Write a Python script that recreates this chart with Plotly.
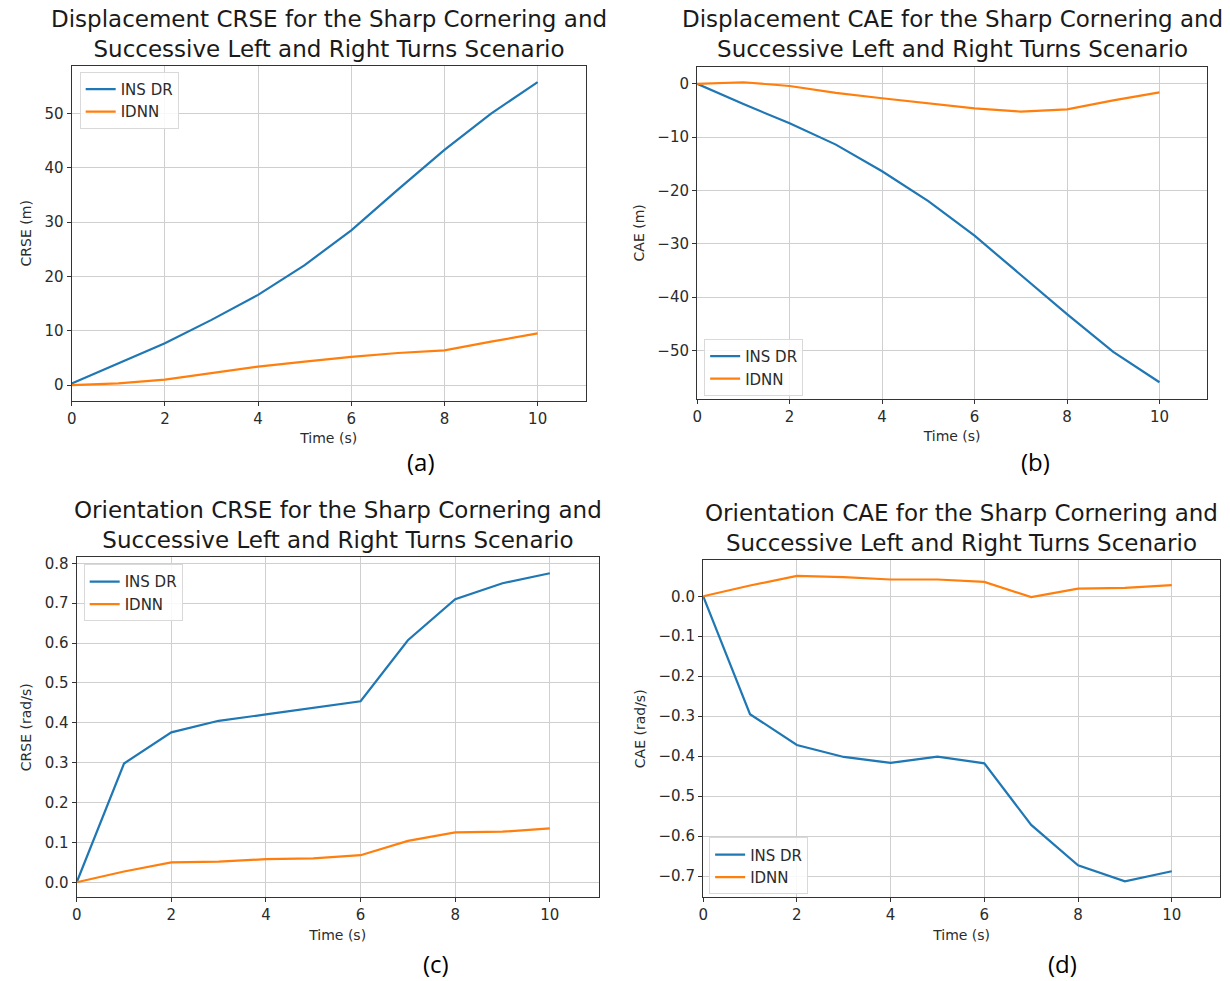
import plotly.graph_objects as go

W, H = 1230, 981

time_s = [0, 1, 2, 3, 4, 5, 6, 7, 8, 9, 10]

# (a) Displacement CRSE
a_ins = [0.3, 4.0, 7.7, 12.0, 16.6, 22.1, 28.5, 36.0, 43.3, 50.0, 55.8]
a_idnn = [0.0, 0.3, 1.0, 2.2, 3.4, 4.3, 5.2, 5.9, 6.4, 8.0, 9.5]
# (b) Displacement CAE
b_ins = [0.0, -3.8, -7.4, -11.4, -16.4, -22.0, -28.5, -35.8, -43.2, -50.3, -56.0]
b_idnn = [0.0, 0.3, -0.4, -1.7, -2.7, -3.7, -4.6, -5.2, -4.8, -3.1, -1.6]
# (c) Orientation CRSE
c_ins = [0.0, 0.298, 0.376, 0.405, 0.421, 0.437, 0.454, 0.607, 0.710, 0.750, 0.775]
c_idnn = [0.0, 0.027, 0.050, 0.052, 0.058, 0.060, 0.068, 0.104, 0.125, 0.127, 0.135]
# (d) Orientation CAE
d_ins = [0.0, -0.295, -0.372, -0.402, -0.417, -0.401, -0.418, -0.572, -0.673, -0.713, -0.688]
d_idnn = [0.0, 0.027, 0.051, 0.048, 0.042, 0.042, 0.036, -0.002, 0.019, 0.021, 0.028]

titles = [
    "Displacement CRSE for the Sharp Cornering and<br>Successive Left and Right Turns Scenario",
    "Displacement CAE for the Sharp Cornering and<br>Successive Left and Right Turns Scenario",
    "Orientation CRSE for the Sharp Cornering and<br>Successive Left and Right Turns Scenario",
    "Orientation CAE for the Sharp Cornering and<br>Successive Left and Right Turns Scenario",
]
ylabels = ["CRSE (m)", "CAE (m)", "CRSE (rad/s)", "CAE (rad/s)"]
xlabel = "Time (s)"
panel_tags = ["(a)", "(b)", "(c)", "(d)"]
series_names = ["INS DR", "IDNN"]

BLUE = "#1f77b4"
ORANGE = "#ff7f0e"

# axes boxes in pixels: left, right, top, bottom
boxes = [
    (67, 583, 63, 399),
    (695, 1207, 64, 397),
    (72, 596, 556, 897),
    (701, 1220, 559, 897),
]
yranges = [[-2.9, 58.8], [-59.1, 3.2], [-0.0375, 0.815], [-0.753, 0.09]]
ytickvals = [
    [0, 10, 20, 30, 40, 50],
    [-50, -40, -30, -20, -10, 0],
    [0.0, 0.1, 0.2, 0.3, 0.4, 0.5, 0.6, 0.7, 0.8],
    [-0.7, -0.6, -0.5, -0.4, -0.3, -0.2, -0.1, 0.0],
]
yfmt = ["d", "d", ".1f", ".1f"]
legend_pos = [  # pixel left, top
    (75, 69),
    (702, 337),
    (79, 563),
    (707, 837),
]
title_y = [61, 61, 554, 557]
tag_pos = [(418, 460), (1035, 460), (433, 963), (1062, 963)]

data = [(a_ins, a_idnn), (b_ins, b_idnn), (c_ins, c_idnn), (d_ins, d_idnn)]

fig = go.Figure()
annotations = []
layout = dict(
    width=W, height=H,
    margin=dict(l=0, r=0, t=0, b=0),
    paper_bgcolor="white", plot_bgcolor="white",
    font=dict(family="DejaVu Sans", color="#262626"),
)

for i in range(4):
    n = "" if i == 0 else str(i + 1)
    l, r, t, b = boxes[i]
    xa = "x" + n
    ya = "y" + n
    leg = "legend" + n
    ins, idnn = data[i]
    fig.add_trace(go.Scatter(x=time_s, y=ins, mode="lines", name=series_names[0],
                             line=dict(color=BLUE, width=2.2), xaxis=xa, yaxis=ya, legend=leg))
    fig.add_trace(go.Scatter(x=time_s, y=idnn, mode="lines", name=series_names[1],
                             line=dict(color=ORANGE, width=2.2), xaxis=xa, yaxis=ya, legend=leg))
    common = dict(
        showline=True, mirror=True, linecolor="#333333", linewidth=1.4,
        ticks="outside", ticklen=4, tickwidth=1.2, tickcolor="#333333",
        showgrid=True, gridcolor="#cfcfcf", gridwidth=1.3, zeroline=False,
        tickfont=dict(size=15, color="#2b2b2b", family="DejaVu Sans"),
    )
    layout["xaxis" + n] = dict(
        common, domain=[l / W, r / W], anchor=ya, range=[0, 11.03],
        tickvals=[0, 2, 4, 6, 8, 10],
        title=dict(text=xlabel, standoff=6, font=dict(size=14, color="#2b2b2b")),
    )
    layout["yaxis" + n] = dict(
        common, domain=[1 - b / H, 1 - t / H], anchor=xa, range=yranges[i],
        tickvals=ytickvals[i], tickformat=yfmt[i],
        title=dict(text=ylabels[i], standoff=9, font=dict(size=14, color="#2b2b2b")),
    )
    lx, ly = legend_pos[i]
    layout[leg] = dict(
        x=lx / W, y=1 - ly / H, xanchor="left", yanchor="top",
        bgcolor="rgba(255,255,255,0.85)", bordercolor="#d9d9d9", borderwidth=1,
        font=dict(size=15, color="#2b2b2b", family="DejaVu Sans"),
        tracegroupgap=0, itemwidth=30,
    )
    annotations.append(dict(
        text=titles[i], xref="paper", yref="paper",
        x=((l + r) / 2) / W, y=1 - title_y[i] / H, xanchor="center", yanchor="bottom",
        showarrow=False, font=dict(size=23, color="#1a1a1a", family="DejaVu Sans"),
    ))
    tx, ty = tag_pos[i]
    annotations.append(dict(
        text=panel_tags[i], xref="paper", yref="paper",
        x=tx / W, y=1 - ty / H, xanchor="center", yanchor="middle",
        showarrow=False, font=dict(size=24, color="#000000", family="Open Sans"),
    ))

layout["annotations"] = annotations
fig.update_layout(**layout)
fig.write_html("out.html")
